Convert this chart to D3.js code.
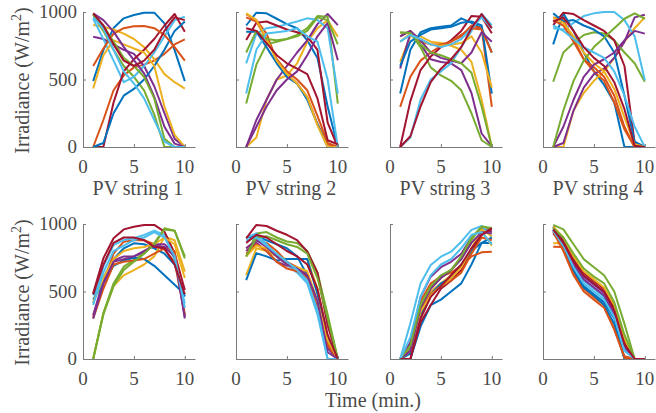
<!DOCTYPE html>
<html>
<head>
<meta charset="UTF-8">
<title>Irradiance profiles</title>
<script src="https://d3js.org/d3.v7.min.js"></script>
<style>
  body { margin: 0; background: #fff; }
  svg text { font-family: "Liberation Serif", "Times New Roman", serif; fill: #4a4a4a; }
</style>
</head>
<body>
<svg id="chart" width="656" height="413"></svg>
<script>
// time axis (minutes) and tick labels
var times = [1, 2, 3, 4, 5, 6, 7, 8, 9, 10];
var xTicks = [0, 5, 10];
var yTicks = [0, 500, 1000];
var stringLabels = ["PV string 1", "PV string 2", "PV string 3", "PV string 4"];

// MATLAB default line colours
var colors = ["#0072BD", "#D95319", "#EDB120", "#7E2F8E", "#77AC30", "#4DBEEE", "#A2142F"];

// top row: irradiance seen by each PV string (W/m^2)
var string1 = [
  [488, 718, 881, 953, 978, 995, 995, 916, 718, 488],
  [0, 200, 420, 530, 590, 610, 640, 690, 760, 797],
  [903, 890, 870, 840, 800, 740, 650, 540, 480, 433],
  [817, 800, 760, 720, 690, 600, 450, 250, 60, 0],
  [980, 860, 720, 600, 520, 420, 240, 0, 0, 0],
  [950, 800, 640, 480, 520, 600, 700, 820, 940, 965],
  [0, 0, 330, 560, 650, 720, 800, 900, 985, 853],
  [0, 30, 250, 380, 430, 500, 600, 720, 860, 930],
  [600, 730, 840, 880, 895, 896, 880, 830, 740, 640],
  [433, 680, 790, 760, 730, 700, 600, 300, 90, 0],
  [990, 940, 855, 742, 644, 545, 371, 150, 25, 0],
  [980, 900, 780, 660, 600, 520, 360, 60, 0, 0],
  [960, 880, 720, 560, 470, 360, 200, 40, 0, 0],
  [990, 900, 760, 640, 600, 640, 720, 860, 960, 940]
];
var string2 = [
  [900, 995, 990, 950, 910, 880, 790, 660, 300, 0],
  [985, 940, 840, 640, 540, 470, 370, 170, 20, 0],
  [0, 70, 350, 500, 530, 620, 780, 880, 940, 817],
  [0, 200, 350, 500, 600, 700, 790, 910, 985, 903],
  [322, 610, 760, 780, 800, 830, 880, 970, 965, 322],
  [619, 840, 880, 890, 910, 930, 953, 940, 880, 396],
  [792, 920, 930, 900, 870, 850, 820, 720, 180, 0],
  [854, 854, 740, 620, 520, 470, 350, 170, 0, 0],
  [960, 930, 800, 650, 560, 500, 420, 230, 30, 0],
  [990, 940, 800, 640, 540, 470, 370, 160, 0, 0],
  [0, 150, 300, 420, 500, 560, 680, 820, 920, 643],
  [700, 860, 800, 790, 800, 820, 860, 960, 940, 760],
  [396, 720, 840, 850, 860, 880, 820, 780, 500, 0],
  [880, 860, 770, 680, 620, 580, 540, 360, 50, 20]
];
var string3 = [
  [396, 720, 850, 880, 890, 900, 953, 920, 880, 700],
  [297, 520, 640, 700, 750, 780, 820, 900, 880, 297],
  [631, 820, 820, 780, 770, 750, 720, 630, 350, 0],
  [582, 845, 760, 650, 630, 620, 570, 400, 100, 5],
  [849, 845, 740, 590, 530, 490, 420, 250, 50, 0],
  [0, 70, 350, 500, 560, 620, 740, 860, 985, 903],
  [0, 340, 570, 670, 740, 790, 860, 970, 965, 842],
  [600, 780, 830, 870, 880, 890, 920, 930, 900, 396],
  [820, 860, 780, 760, 760, 780, 830, 880, 870, 700],
  [780, 840, 790, 760, 750, 760, 770, 820, 700, 440],
  [820, 860, 790, 700, 660, 640, 620, 700, 850, 780],
  [849, 845, 760, 700, 680, 650, 620, 550, 300, 0],
  [780, 830, 800, 760, 740, 760, 800, 880, 960, 880],
  [0, 80, 300, 480, 580, 650, 740, 880, 985, 880]
];
var string4 = [
  [760, 990, 860, 700, 560, 460, 330, 0, 0, 0],
  [960, 940, 800, 650, 560, 490, 330, 130, 0, 0],
  [0, 0, 270, 400, 490, 560, 660, 780, 880, 960],
  [0, 30, 270, 440, 540, 580, 660, 780, 960, 980],
  [483, 700, 770, 830, 850, 840, 790, 700, 620, 483],
  [879, 870, 920, 970, 990, 1000, 1000, 940, 820, 495],
  [903, 995, 985, 940, 900, 860, 790, 600, 30, 0],
  [990, 930, 940, 900, 870, 820, 700, 380, 40, 0],
  [940, 900, 780, 650, 590, 520, 380, 150, 0, 0],
  [960, 920, 820, 700, 620, 560, 430, 220, 20, 0],
  [0, 150, 350, 520, 610, 650, 700, 790, 860, 840],
  [0, 270, 490, 640, 740, 810, 880, 950, 990, 950],
  [900, 860, 800, 740, 700, 660, 560, 380, 150, 0],
  [930, 960, 860, 740, 660, 600, 480, 280, 10, 0]
];

// bottom row: typical irradiance profiles
var profile1 = [
  [474, 600, 740, 820, 857, 850, 820, 780, 700, 462],
  [314, 560, 780, 869, 880, 880, 850, 810, 720, 330],
  [0, 340, 540, 620, 659, 700, 760, 906, 880, 647],
  [326, 580, 730, 760, 760, 790, 850, 850, 780, 314],
  [0, 338, 560, 684, 733, 783, 857, 968, 951, 746],
  [412, 684, 844, 881, 894, 919, 951, 919, 733, 412],
  [486, 746, 894, 960, 980, 993, 993, 943, 783, 511],
  [440, 560, 690, 730, 750, 740, 690, 620, 550, 480],
  [300, 520, 700, 720, 730, 740, 780, 820, 800, 320],
  [420, 600, 740, 800, 820, 830, 850, 900, 850, 600],
  [300, 560, 720, 740, 760, 800, 840, 830, 760, 300],
  [0, 330, 540, 660, 720, 780, 850, 960, 950, 760],
  [400, 640, 800, 840, 880, 900, 940, 900, 760, 380],
  [480, 700, 860, 900, 900, 880, 830, 820, 700, 480]
];
var profile2 = [
  [900, 910, 880, 850, 820, 760, 620, 380, 120, 0],
  [820, 880, 860, 800, 720, 680, 620, 400, 120, 0],
  [622, 820, 800, 760, 740, 740, 740, 520, 150, 0],
  [800, 860, 800, 720, 690, 670, 610, 420, 80, 0],
  [758, 930, 940, 900, 870, 860, 800, 640, 330, 0],
  [900, 930, 850, 760, 700, 640, 560, 330, 0, 0],
  [894, 993, 985, 950, 920, 880, 795, 640, 250, 0],
  [585, 783, 760, 730, 740, 740, 740, 480, 150, 0],
  [780, 850, 800, 720, 670, 650, 600, 400, 100, 0],
  [760, 840, 820, 760, 700, 680, 650, 430, 140, 0],
  [820, 880, 830, 760, 700, 670, 620, 430, 50, 0],
  [760, 900, 910, 880, 850, 830, 780, 600, 300, 0],
  [880, 900, 840, 780, 720, 660, 580, 360, 0, 0],
  [860, 920, 900, 850, 800, 760, 700, 520, 180, 0]
];
var profile3 = [
  [0, 0, 240, 400, 440, 500, 560, 700, 860, 860],
  [0, 120, 430, 560, 610, 640, 690, 760, 790, 795],
  [0, 80, 380, 500, 560, 620, 680, 800, 950, 840],
  [0, 120, 460, 610, 680, 720, 780, 900, 970, 940],
  [0, 80, 400, 530, 600, 660, 740, 880, 985, 960],
  [0, 265, 560, 696, 758, 795, 869, 956, 985, 906],
  [0, 0, 270, 400, 520, 580, 660, 800, 920, 960],
  [0, 40, 320, 480, 560, 600, 700, 800, 860, 900],
  [0, 60, 360, 480, 540, 580, 640, 780, 900, 880],
  [0, 60, 350, 470, 540, 600, 680, 820, 960, 910],
  [0, 60, 380, 520, 600, 660, 740, 860, 940, 930],
  [0, 100, 400, 540, 620, 660, 760, 900, 980, 970],
  [0, 160, 460, 620, 700, 740, 820, 920, 940, 850],
  [0, 0, 300, 460, 540, 620, 700, 820, 920, 970]
];
var profile4 = [
  [960, 830, 650, 540, 480, 420, 300, 0, 0, 0],
  [832, 830, 640, 520, 460, 400, 220, 20, 0, 0],
  [857, 860, 740, 620, 560, 500, 360, 120, 0, 0],
  [930, 850, 720, 610, 550, 490, 350, 100, 0, 0],
  [993, 960, 850, 740, 680, 620, 500, 260, 0, 0],
  [960, 870, 700, 580, 520, 460, 330, 80, 0, 0],
  [980, 880, 740, 640, 580, 520, 380, 130, 0, 0],
  [980, 850, 660, 530, 470, 400, 260, 0, 0, 0],
  [940, 800, 620, 500, 440, 380, 220, 10, 0, 0],
  [980, 900, 760, 650, 590, 530, 400, 150, 0, 0],
  [950, 860, 700, 590, 530, 470, 330, 90, 0, 0],
  [970, 900, 780, 670, 610, 560, 420, 180, 0, 0],
  [950, 840, 680, 560, 500, 440, 310, 60, 0, 0],
  [960, 860, 720, 620, 560, 500, 360, 110, 0, 0]
];

var topRow = [string1, string2, string3, string4];
var bottomRow = [profile1, profile2, profile3, profile4];

var svg = d3.select("#chart");

// layout of the 2x4 grid
var panelLeft = [83, 236, 390, 543];
var panelWidth = 112;
var rowTop = [12, 224];
var panelHeight = 135;

var axisColor = "#7a7a7a";

function drawPanel(series, col, row) {
  var x = d3.scaleLinear().domain([0, 11]).range([panelLeft[col], panelLeft[col] + panelWidth]);
  var y = d3.scaleLinear().domain([0, 1000]).range([rowTop[row] + panelHeight, rowTop[row]]);

  var g = svg.append("g");

  // lines
  var line = d3.line()
    .x(function(d, i) { return x(times[i]); })
    .y(function(d) { return y(d); });

  g.selectAll("path.series")
    .data(series)
    .enter()
    .append("path")
    .attr("class", "series")
    .attr("d", line)
    .attr("fill", "none")
    .attr("stroke", function(d, i) { return colors[i % colors.length]; })
    .attr("stroke-width", 2)
    .attr("stroke-linejoin", "round");

  // x axis (ticks inside)
  var xAxis = d3.axisTop(x).tickValues(xTicks).tickSize(3).tickSizeOuter(0).tickFormat("");
  var gx = g.append("g").attr("transform", "translate(0," + y(0) + ")").call(xAxis);
  gx.select(".domain").attr("stroke", axisColor);
  gx.selectAll(".tick line").attr("stroke", axisColor);

  gx.selectAll(".ticklabel")
    .data(xTicks)
    .enter()
    .append("text")
    .attr("x", function(d) { return x(d); })
    .attr("y", 26)
    .attr("text-anchor", "middle")
    .style("font-size", "19px")
    .text(function(d) { return d; });

  // y axis (ticks inside)
  var yAxis = d3.axisRight(y).tickValues(yTicks).tickSize(3).tickSizeOuter(0).tickFormat("");
  var gy = g.append("g").attr("transform", "translate(" + x(0) + ",0)").call(yAxis);
  gy.select(".domain").attr("stroke", axisColor);
  gy.selectAll(".tick line").attr("stroke", axisColor);

  if (col === 0) {
    gy.selectAll(".ticklabel")
      .data(yTicks)
      .enter()
      .append("text")
      .attr("x", -6)
      .attr("y", function(d) { return y(d) + 6; })
      .attr("text-anchor", "end")
      .style("font-size", "19px")
      .text(function(d) { return d; });

    var yl = g.append("text")
      .attr("transform", "translate(29," + (y(500) + 1) + ") rotate(-90)")
      .attr("text-anchor", "middle")
      .style("font-size", "20px");
    yl.append("tspan").text("Irradiance (W/m");
    yl.append("tspan").attr("dy", -8).style("font-size", "14px").text("2");
    yl.append("tspan").attr("dy", 8).text(")");
  }

  if (row === 0) {
    g.append("text")
      .attr("x", x(5.4))
      .attr("y", y(0) + 48)
      .attr("text-anchor", "middle")
      .style("font-size", "20px")
      .text(stringLabels[col]);
  }
}

topRow.forEach(function(s, i) { drawPanel(s, i, 0); });
bottomRow.forEach(function(s, i) { drawPanel(s, i, 1); });

svg.append("text")
  .attr("x", 373)
  .attr("y", 407)
  .attr("text-anchor", "middle")
  .style("font-size", "20px")
  .text("Time (min.)");
</script>
</body>
</html>
